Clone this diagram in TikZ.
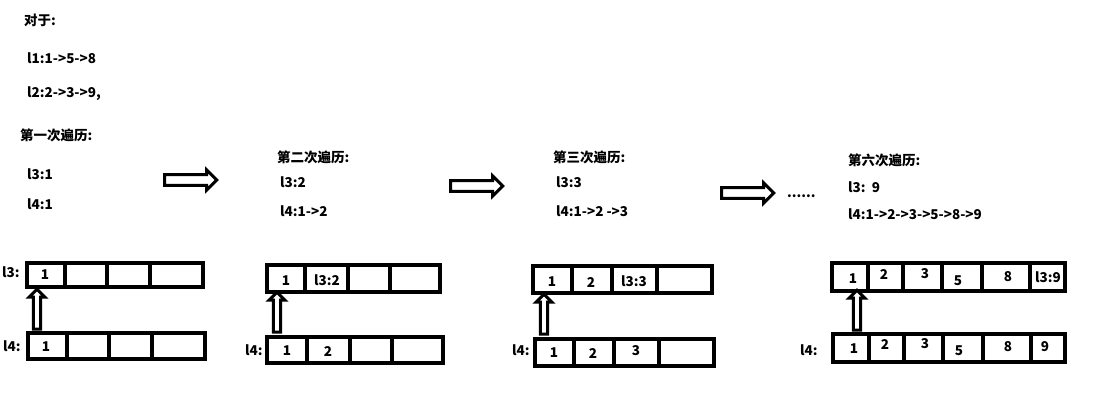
\documentclass[tikz,border=0pt]{standalone}
\usepackage{fontspec}
\setmainfont{Noto Sans CJK SC}
\usetikzlibrary{shapes.arrows}
\begin{document}
\begin{tikzpicture}[x=1pt,y=-1pt,
 txt/.style={anchor=west,font=\bfseries\fontsize{13.5}{15}\selectfont,inner sep=0pt},
 cell/.style={font=\bfseries\fontsize{13.5}{15}\selectfont,inner sep=0pt},
 arr/.style={draw=black,line width=4pt},
 rarrow/.style={single arrow,draw=black,fill=white,line width=3pt,minimum height=52pt,minimum width=20pt,single arrow head extend=3pt,inner sep=2pt},
 uarrow/.style={single arrow,draw=black,fill=white,line width=3pt,minimum height=40pt,minimum width=16pt,single arrow head extend=3pt,inner sep=1pt,shape border rotate=90}]
\useasboundingbox (0,0) rectangle (1101,404);
\fill[white] (0,0) rectangle (1101,404);
% texts
\node[txt] (t0) at (24,20) {对于:};
\node[txt] (t1) at (27,58) {l1:1->5->8};
\node[txt] (t2) at (27,94) {l2:2->3->9,};
\node[txt] (h1) at (20,135) {第一次遍历:};
\node[txt] (a1) at (27,174) {l3:1};
\node[txt] (b1) at (27,204) {l4:1};
\node[txt] (h2) at (277,157) {第二次遍历:};
\node[txt] (a2) at (280,182) {l3:2};
\node[txt] (b2) at (280,211) {l4:1->2};
\node[txt] (h3) at (553,157) {第三次遍历:};
\node[txt] (a3) at (556,182) {l3:3};
\node[txt] (b3) at (556,211) {l4:1->2 ->3};
\node[txt] (dots) at (787,196) {......};
\node[txt] (h4) at (848,160) {第六次遍历:};
\node[txt] (a4) at (848,187) {l3:\ \ 9};
\node[txt] (b4) at (848,214) {l4:1->2->3->5->8->9};
% right arrows
\node[rarrow] (r1) at (188,180) {};
\node[rarrow] (r2) at (474,186) {};
\node[rarrow] (r3) at (745,193) {};
% arrays
\newcommand{\arrbox}[4]{% x1,y1,x2,y2
 \draw[arr] (#1,#2) rectangle (#3,#4);}
% A1
\arrbox{27}{263}{203}{287}
\foreach \x in {65,107,150} \draw[arr] (\x,263) -- (\x,287);
\arrbox{28}{333}{205}{359}
\foreach \x in {67,109,152} \draw[arr] (\x,333) -- (\x,359);
\node[cell] (c1) at (45,275) {1};
\node[cell] (d1) at (46,347) {1};
\node[txt] (l31) at (2,272) {l3:};
\node[txt] (l41) at (3,346) {l4:};
% A2
\arrbox{267}{265}{440}{292}
\foreach \x in {305,348,390} \draw[arr] (\x,265) -- (\x,292);
\arrbox{267}{337}{443}{363}
\foreach \x in {307,350,392} \draw[arr] (\x,337) -- (\x,363);
\node[cell] (c2) at (286,281) {1};
\node[cell] (c22) at (327,280) {l3:2};
\node[cell] (d2) at (287,351) {1};
\node[cell] (d22) at (328,352) {2};
\node[txt] (l42) at (245,350) {l4:};
% A3
\arrbox{533}{266}{712}{293}
\foreach \x in {572,612,657} \draw[arr] (\x,266) -- (\x,293);
\arrbox{535}{339}{714}{366}
\foreach \x in {574,614,659} \draw[arr] (\x,339) -- (\x,366);
\node[cell] (c3) at (552,282) {1};
\node[cell] (c32) at (591,283) {2};
\node[cell] (c33) at (634,281) {l3:3};
\node[cell] (d3) at (554,353) {1};
\node[cell] (d32) at (593,354) {2};
\node[cell] (d33) at (636,351) {3};
\node[txt] (l43) at (512,350) {l4:};
% A4
\arrbox{832}{263}{1065}{291}
\foreach \x in {868,903,942,982,1030} \draw[arr] (\x,263) -- (\x,291);
\arrbox{833}{334}{1065}{362}
\foreach \x in {869,904,943,983,1031} \draw[arr] (\x,334) -- (\x,362);
\node[cell] (c4) at (853,279) {1};
\node[cell] (c42) at (884,275) {2};
\node[cell] (c43) at (925,274) {3};
\node[cell] (c44) at (958,281) {5};
\node[cell] (c45) at (1008,277) {8};
\node[cell] (c46) at (1048,277) {l3:9};
\node[cell] (d4) at (854,349) {1};
\node[cell] (d42) at (885,345) {2};
\node[cell] (d43) at (925,344) {3};
\node[cell] (d44) at (959,351) {5};
\node[cell] (d45) at (1008,347) {8};
\node[cell] (d46) at (1045,347) {9};
\node[txt] (l44) at (800,350) {l4:};
% up arrows
\node[uarrow] (u1) at (37,311) {};
\node[uarrow] (u2) at (277,314) {};
\node[uarrow] (u3) at (544,316) {};
\node[uarrow] (u4) at (857,312) {};
\end{tikzpicture}
\end{document}
